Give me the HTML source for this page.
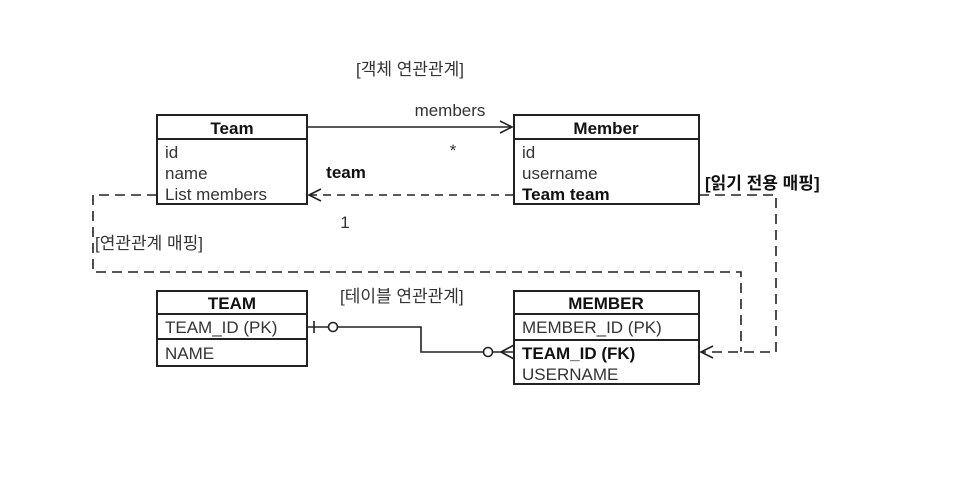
<!DOCTYPE html>
<html><head><meta charset="utf-8"><style>
body{margin:0;background:#fff}
svg text{font-family:"Liberation Sans","Noto Sans CJK KR",sans-serif;}
</style></head><body>
<svg width="968" height="484" viewBox="0 0 968 484" xmlns="http://www.w3.org/2000/svg">
<rect width="968" height="484" fill="#fff"/>
<g fill="none" stroke="#222" stroke-width="2">
<rect x="157" y="115" width="150" height="89"/><line x1="157" y1="139" x2="307" y2="139"/>
<rect x="514" y="115" width="185" height="89"/><line x1="514" y1="139" x2="699" y2="139"/>
<rect x="157" y="291" width="150" height="75"/><line x1="157" y1="314" x2="307" y2="314"/><line x1="157" y1="339" x2="307" y2="339"/>
<rect x="514" y="291" width="185" height="93"/><line x1="514" y1="314" x2="699" y2="314"/><line x1="514" y1="340" x2="699" y2="340"/>
</g>
<g fill="none" stroke="#222" stroke-width="1.6">
<line x1="307" y1="127" x2="512" y2="127"/><polyline points="500,121 512,127 500,133"/>
<line x1="309" y1="195" x2="514" y2="195" stroke-dasharray="8,6"/><polyline points="321,189 309,195 321,201"/>
<polyline points="157,195 93,195 93,272 741,272 741,352" stroke-dasharray="10,6"/>
<polyline points="699,195 776,195 776,352 701,352" stroke-dasharray="10,6"/>
<polyline points="713,346 701,352 713,358"/>
<line x1="307" y1="327" x2="328" y2="327"/><line x1="314" y1="321" x2="314" y2="333"/>
<circle cx="333" cy="327" r="4.5"/>
<polyline points="338,327 421,327 421,352 483,352"/>
<circle cx="488" cy="352" r="4.5"/>
<line x1="493" y1="352" x2="514" y2="352"/><line x1="501" y1="352" x2="514" y2="345"/><line x1="501" y1="352" x2="514" y2="359"/>
</g>
<g font-size="17" fill="#333">
<text x="232" y="134" text-anchor="middle" font-weight="bold" fill="#111">Team</text>
<text x="165" y="158">id</text><text x="165" y="179">name</text><text x="165" y="200">List members</text>
<text x="606" y="134" text-anchor="middle" font-weight="bold" fill="#111">Member</text>
<text x="522" y="158">id</text><text x="522" y="179">username</text><text x="522" y="200" font-weight="bold" fill="#111">Team team</text>
<text x="232" y="309" text-anchor="middle" font-weight="bold" fill="#111">TEAM</text>
<text x="165" y="333">TEAM_ID (PK)</text><text x="165" y="359">NAME</text>
<text x="606" y="309" text-anchor="middle" font-weight="bold" fill="#111">MEMBER</text>
<text x="522" y="333">MEMBER_ID (PK)</text><text x="522" y="359" font-weight="bold" fill="#111">TEAM_ID (FK)</text><text x="522" y="380">USERNAME</text>
<text x="450" y="116" text-anchor="middle">members</text>
<text x="453" y="156" text-anchor="middle">*</text>
<text x="346" y="178" text-anchor="middle" font-weight="bold" fill="#111">team</text>
<text x="345" y="228" text-anchor="middle">1</text>
<text x="410" y="75" text-anchor="middle">[객체 연관관계]</text>
<text x="95" y="249">[연관관계 매핑]</text>
<text x="340" y="302">[테이블 연관관계]</text>
<text x="705" y="189" font-weight="bold" fill="#111">[읽기 전용 매핑]</text>
</g>
</svg>
</body></html>
